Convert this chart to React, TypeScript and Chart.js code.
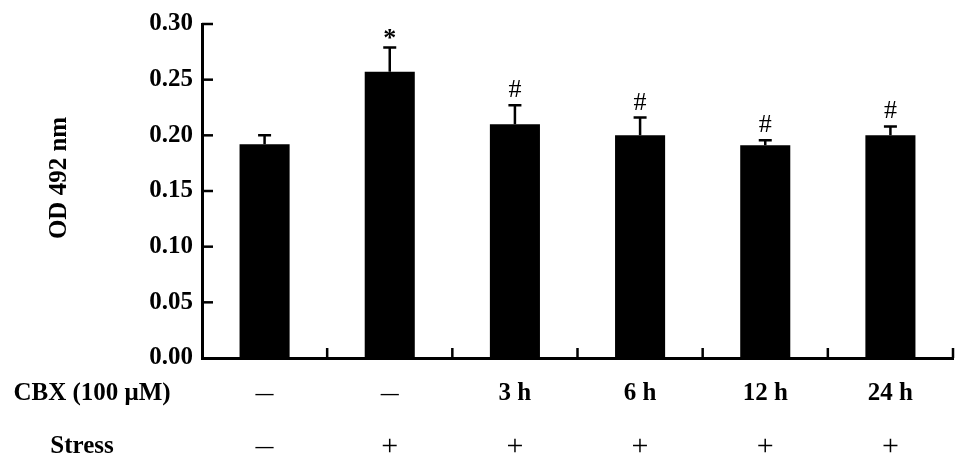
import React, { useEffect, useRef } from "react";
import { Chart, registerables } from "chart.js";

Chart.register(...registerables);

const cbxLabels = ["—", "—", "3 h", "6 h", "12 h", "24 h"];
const stressLabels = ["—", "+", "+", "+", "+", "+"];
const meanValues = [0.192, 0.257, 0.21, 0.2, 0.191, 0.2];
const errorValues = [0.008, 0.022, 0.017, 0.016, 0.0045, 0.008];
const significance = ["", "*", "#", "#", "#", "#"];
const yTicks = [0, 0.05, 0.1, 0.15, 0.2, 0.25, 0.3];
const rowTitles = ["CBX (100 μM)", "Stress"];
const yTitle = "OD 492 nm";

const SERIF = '"Liberation Serif", "Times New Roman", serif';

const overlayPlugin = {
  id: "overlay",
  afterDatasetsDraw(chart: any) {
    const { ctx, chartArea, scales } = chart;
    const xs = scales.x;
    const ys = scales.y;
    ctx.save();
    ctx.strokeStyle = "#000";
    ctx.fillStyle = "#000";
    ctx.lineWidth = 2.5;

    // error bars (upper only)
    meanValues.forEach((m, i) => {
      const x = xs.getPixelForValue(i);
      const y0 = ys.getPixelForValue(m);
      const y1 = ys.getPixelForValue(m + errorValues[i]);
      ctx.beginPath();
      ctx.moveTo(x, y0);
      ctx.lineTo(x, y1);
      ctx.moveTo(x - 6.5, y1);
      ctx.lineTo(x + 6.5, y1);
      ctx.stroke();
      const s = significance[i];
      if (s) {
        ctx.textAlign = "center";
        ctx.textBaseline = "alphabetic";
        if (s === "*") {
          ctx.font = `bold 26px ${SERIF}`;
          ctx.fillText(s, x, y1 - 1);
        } else {
          ctx.font = `26px ${SERIF}`;
          ctx.fillText(s, x, y1 - 8);
        }
      }
    });

    // inward y ticks
    ctx.lineWidth = 2.5;
    yTicks.forEach((v) => {
      if (v === 0) return;
      const y = ys.getPixelForValue(v);
      ctx.beginPath();
      ctx.moveTo(chartArea.left, y);
      ctx.lineTo(chartArea.left + 11, y);
      ctx.stroke();
    });

    // inward x ticks at category boundaries
    const n = cbxLabels.length;
    for (let i = 1; i <= n; i++) {
      const x =
        i < n
          ? (xs.getPixelForValue(i - 1) + xs.getPixelForValue(i)) / 2
          : chartArea.right;
      ctx.beginPath();
      ctx.moveTo(x, chartArea.bottom);
      ctx.lineTo(x, chartArea.bottom - 10);
      ctx.stroke();
    }

    // row labels
    ctx.textBaseline = "middle";
    ctx.textAlign = "center";
    const rowY = [chartArea.bottom + 36, chartArea.bottom + 89];
    ctx.font = `bold 25px ${SERIF}`;
    ctx.fillText(rowTitles[0], 92, rowY[0]);
    ctx.fillText(rowTitles[1], 82, rowY[1]);
    cbxLabels.forEach((lab, i) => {
      const x = xs.getPixelForValue(i);
      if (lab === "—") {
        ctx.font = `bold 18px ${SERIF}`;
      } else {
        ctx.font = `bold 25px ${SERIF}`;
      }
      ctx.fillText(lab, x, rowY[0]);
    });
    stressLabels.forEach((lab, i) => {
      const x = xs.getPixelForValue(i);
      if (lab === "—") {
        ctx.font = `bold 18px ${SERIF}`;
      } else {
        ctx.font = `30px ${SERIF}`;
      }
      ctx.fillText(lab, x, rowY[1]);
    });

    // y axis title
    ctx.save();
    ctx.translate(60, (chartArea.top + chartArea.bottom) / 2 - 13);
    ctx.rotate(-Math.PI / 2);
    ctx.font = `bold 25px ${SERIF}`;
    ctx.textAlign = "center";
    ctx.textBaseline = "middle";
    ctx.fillText(yTitle, 0, 0);
    ctx.restore();

    ctx.restore();
  },
};

export default function App() {
  const ref = useRef<HTMLCanvasElement | null>(null);
  useEffect(() => {
    if (!ref.current) return;
    const chart = new Chart(ref.current, {
      type: "bar",
      data: {
        labels: cbxLabels.map((_, i) => String(i)),
        datasets: [
          {
            data: meanValues,
            backgroundColor: "#000",
            borderWidth: 0,
            barPercentage: 0.4,
            categoryPercentage: 1,
          },
        ],
      },
      options: {
        responsive: false,
        animation: false,
        layout: { padding: { left: 0, top: 19, right: 16, bottom: 0 } },
        plugins: {
          legend: { display: false },
          tooltip: { enabled: false },
          title: { display: false },
        },
        scales: {
          x: {
            ticks: { display: false },
            grid: { display: false, drawTicks: false },
            border: { display: true, width: 3, color: "#000" },
            afterFit: (s: any) => {
              s.height = 109;
            },
          },
          y: {
            min: 0,
            max: 0.3,
            afterBuildTicks: (s: any) => {
              s.ticks = yTicks.map((v) => ({ value: v }));
            },
            ticks: {
              callback: (v: any) => Number(v).toFixed(2),
              font: { family: SERIF, size: 25, weight: "bold" },
              color: "#000",
              padding: 9,
            },
            grid: { display: false, drawTicks: false },
            border: { display: true, width: 3, color: "#000" },
            afterFit: (s: any) => {
              s.width = 202;
            },
          },
        },
      },
      plugins: [overlayPlugin],
    });
    return () => chart.destroy();
  }, []);
  return (
    <div style={{ position: "absolute", left: 0, top: 0, width: 969, height: 467, background: "#fff" }}>
      <canvas ref={ref} width={969} height={467} />
    </div>
  );
}
